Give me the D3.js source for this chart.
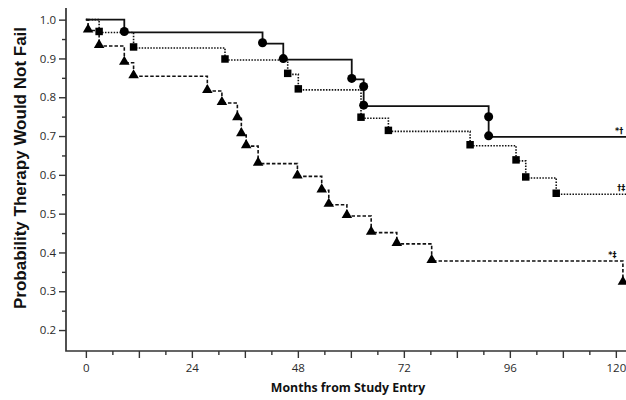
<!DOCTYPE html>
<html>
<head>
<meta charset="utf-8">
<script src="https://cdn.jsdelivr.net/npm/d3@7"></script>
<style>
  body { margin: 0; background: #fff; }
  svg { display: block; }
</style>
</head>
<body>
<svg id="kmChart"></svg>
<script>
// step data (months, probability)
const circleMonths = [0, 8.7, 40, 44.7, 60.2, 62.9, 62.9, 91.2, 91.2];
const circleProb = [1.0, 0.967, 0.938, 0.897, 0.846, 0.825, 0.777, 0.747, 0.698];

const squareMonths = [0, 3, 10.8, 31.5, 45.7, 48.1, 62.3, 68.5, 87.0, 97.4, 99.6, 106.5];
const squareProb = [1.0, 0.967, 0.927, 0.896, 0.859, 0.819, 0.746, 0.712, 0.675, 0.636, 0.592, 0.550];

const triangleMonths = [0, 0.5, 3, 8.7, 10.8, 27.5, 30.8, 34.3, 35.2, 36.3, 39.0, 47.9, 53.4, 55.0, 59.1, 64.6, 70.4, 78.3, 121.6];
const triangleProb = [1.0, 0.972, 0.932, 0.889, 0.854, 0.816, 0.785, 0.746, 0.705, 0.674, 0.629, 0.596, 0.560, 0.523, 0.494, 0.451, 0.422, 0.378, 0.322];

const endLabels = ["*\u2020", "\u2020\u2021", "*\u2021"];
const endLabelMonths = [119.8, 120.3, 118.3];
const endLabelProb = [0.698, 0.550, 0.378];

const xTickLabels = [0, 24, 48, 72, 96, 120];
const xMajorTicks = [0, 12, 24, 36, 48, 60, 72, 84, 96, 108, 120];
const xMinorTicks = [6, 18, 30, 42, 54, 66, 78, 90, 102, 114];
const yTickLabels = [0.2, 0.3, 0.4, 0.5, 0.6, 0.7, 0.8, 0.9, 1.0];
const yMinorTicks = [0.25, 0.35, 0.45, 0.55, 0.65, 0.75, 0.85, 0.95];

var w = 626;
var h = 400;
let margin = ({ top: 8, right: 0, bottom: 49, left: 66 });

var xScale = d3.scaleLinear()
    .domain([-4.5, 122.3])
    .range([margin.left, w - margin.right]);

var yScale = d3.scaleLinear()
    .domain([0.146, 1.03])
    .range([h - margin.bottom, margin.top]);

var svg = d3.select("#kmChart")
    .attr("width", w)
    .attr("height", h);

const tickFont = "'Open Sans', sans-serif";
const axisColor = "#333";

// y axis: labelled ticks + minor ticks
svg.append("g")
    .attr("transform", `translate(${margin.left},0)`)
    .call(d3.axisLeft(yScale).tickValues(yTickLabels).tickFormat(d3.format(".1f")).tickSize(7).tickSizeOuter(0))
    .call(g => g.select(".domain").remove())
    .call(g => g.selectAll("line").attr("stroke", axisColor).attr("stroke-width", 1.4))
    .call(g => g.selectAll("text")
        .attr("x", -10)
        .style("font-family", tickFont)
        .style("font-size", "11.5px")
        .attr("fill", "#2a2a2a"));

svg.append("g")
    .attr("transform", `translate(${margin.left},0)`)
    .call(d3.axisLeft(yScale).tickValues(yMinorTicks).tickFormat("").tickSize(4).tickSizeOuter(0))
    .call(g => g.select(".domain").remove())
    .call(g => g.selectAll("line").attr("stroke", axisColor).attr("stroke-width", 1.4));

// x axis
svg.append("g")
    .attr("transform", `translate(0,${h - margin.bottom})`)
    .call(d3.axisBottom(xScale).tickValues(xMajorTicks)
        .tickFormat(d => xTickLabels.includes(d) ? d : "")
        .tickSize(7).tickSizeOuter(0))
    .call(g => g.select(".domain").remove())
    .call(g => g.selectAll("line").attr("stroke", axisColor).attr("stroke-width", 1.4))
    .call(g => g.selectAll("text")
        .attr("y", 13)
        .style("font-family", tickFont)
        .style("font-size", "11.5px")
        .attr("fill", "#2a2a2a"));

svg.append("g")
    .attr("transform", `translate(0,${h - margin.bottom})`)
    .call(d3.axisBottom(xScale).tickValues(xMinorTicks).tickFormat("").tickSize(4).tickSizeOuter(0))
    .call(g => g.select(".domain").remove())
    .call(g => g.selectAll("line").attr("stroke", axisColor).attr("stroke-width", 1.4));

// axis lines
svg.append("path")
    .attr("d", `M${margin.left},${margin.top}V${h - margin.bottom}H${w}`)
    .attr("fill", "none")
    .attr("stroke", axisColor)
    .attr("stroke-width", 1.7);

// axis titles
svg.append("text")
    .attr("x", 348)
    .attr("y", 392)
    .attr("text-anchor", "middle")
    .style("font-family", tickFont)
    .style("font-weight", "bold")
    .style("font-size", "12.3px")
    .attr("fill", "#111")
    .text("Months from Study Entry");

svg.append("text")
    .attr("transform", "translate(26,168) rotate(-90)")
    .attr("text-anchor", "middle")
    .style("font-family", "'Liberation Sans', Arial, sans-serif")
    .style("font-weight", "bold")
    .style("font-size", "17px")
    .attr("fill", "#111")
    .text("Probability Therapy Would Not Fail");

const plot = svg.append("g");

function makeSeries(months, prob) {
    let pts = months.map((m, i) => [m, prob[i]]);
    return pts;
}

const stepLine = d3.line()
    .x(d => xScale(d[0]))
    .y(d => yScale(d[1]))
    .curve(d3.curveStepAfter);

const groups = [
    { pts: makeSeries(triangleMonths, triangleProb), dash: "3.5,2", width: 1.6, symbol: d3.symbolTriangle, size: 48 },
    { pts: makeSeries(squareMonths, squareProb), dash: "1.5,1.4", width: 1.6, symbol: d3.symbolSquare, size: 56 },
    { pts: makeSeries(circleMonths, circleProb), dash: null, width: 1.8, symbol: d3.symbolCircle, size: 64 }
];

groups.forEach(grp => {
    let last = grp.pts[grp.pts.length - 1];
    let linePts = grp.pts.concat([[xScale.domain()[1], last[1]]]);

    plot.append("path")
        .datum(linePts)
        .attr("d", stepLine)
        .attr("fill", "none")
        .attr("stroke", "#111")
        .attr("stroke-width", grp.width)
        .attr("stroke-dasharray", grp.dash);

    plot.selectAll(null)
        .data(grp.pts.slice(1))
        .join("path")
        .attr("transform", d => `translate(${xScale(d[0])},${yScale(d[1]) - 1})`)
        .attr("d", d3.symbol().type(grp.symbol).size(grp.size))
        .attr("fill", "#000");
});

// end-of-curve significance marks
svg.append("g")
    .selectAll("text")
    .data(endLabels)
    .join("text")
    .attr("x", (d, i) => xScale(endLabelMonths[i]))
    .attr("y", (d, i) => yScale(endLabelProb[i]) - 3)
    .style("font-family", "'DejaVu Sans', sans-serif")
    .style("font-weight", "bold")
    .style("font-size", "8px")
    .attr("fill", "#111")
    .text(d => d);
</script>
</body>
</html>
